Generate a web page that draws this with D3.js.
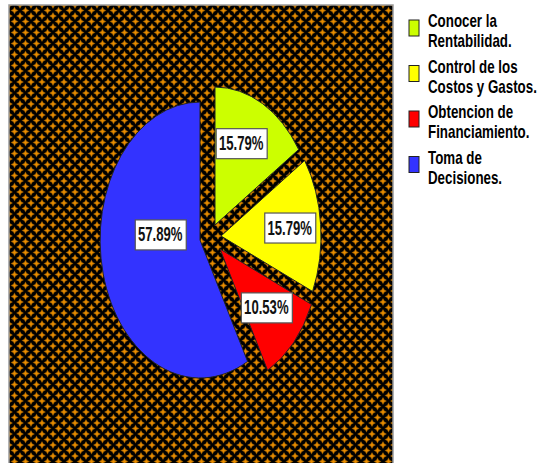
<!DOCTYPE html>
<html><head><meta charset="utf-8">
<script src="https://cdn.jsdelivr.net/npm/d3@7/dist/d3.min.js"></script>
<style>body{margin:0;background:#fff;overflow:hidden}</style>
</head><body>
<svg id="chart" width="546" height="463"></svg>
<script>
// ---- data ----
const categories = ["Conocer la Rentabilidad.", "Control de los Costos y Gastos.", "Obtencion de Financiamiento.", "Toma de Decisiones."];
const legendLines = [["Conocer la", "Rentabilidad."], ["Control de los", "Costos y Gastos."], ["Obtencion de", "Financiamiento."], ["Toma de", "Decisiones."]];
const values = [15.79, 15.79, 10.53, 57.89];
const valueLabels = ["15.79%", "15.79%", "10.53%", "57.89%"];

// ---- style ----
const colors = ["#ccff00", "#ffff00", "#ff0000", "#3333ff"];
const FONT = "'Liberation Sans','Arial',sans-serif";
const plot = {x: 9, y: 5, w: 384, h: 470};
const pieCenter = {x: 209, y: 238}, rx = 100, ry = 138;
const explode = [[6, -13], [12, -2], [11, 11], [-9, 2]];   // slice displacement (px)
const labelK = [[0.55, 0.67], [0.69, 0.7], [0.63, 0.63], [0.41, -0.15]];

const svg = d3.select("#chart");
const defs = svg.append("defs");
const T = 11;
const pat = defs.append("pattern").attr("id", "bg").attr("patternUnits", "userSpaceOnUse")
  .attr("x", plot.x).attr("y", plot.y).attr("width", T).attr("height", T);
pat.append("rect").attr("width", T).attr("height", T).attr("fill", "#000");
function star(cx, cy, R, r) {
  const pts = [];
  for (let i = 0; i < 8; i++) {
    const a = i * Math.PI / 4, rr = i % 2 ? r : R;
    pts.push([cx + rr * Math.sin(a), cy - rr * Math.cos(a)]);
  }
  return "M" + pts.map(p => p.join(",")).join("L") + "Z";
}
[[0, 0], [T, 0], [0, T], [T, T], [T / 2, T / 2]].forEach(([cx, cy]) => {
  pat.append("path").attr("d", star(cx, cy, 4.0, 2.0)).attr("fill", "#7a4800");
  pat.append("path").attr("d", star(cx, cy, 3.3, 1.4)).attr("fill", "#c67800");
  pat.append("path").attr("d", star(cx, cy, 2.2, 0.9)).attr("fill", "#e88c00");
});

svg.append("rect").attr("x", plot.x).attr("y", plot.y).attr("width", plot.w).attr("height", plot.h)
  .attr("fill", "url(#bg)").attr("stroke", "#9a9a9a").attr("stroke-width", 1.5);

const pie = d3.pie().sort(null).value(d => d)(values);
const arc = d3.arc().innerRadius(0).outerRadius(1);

const slices = svg.append("g").selectAll("g").data(pie).join("g")
  .attr("transform", (d, i) => `translate(${pieCenter.x + explode[i][0]},${pieCenter.y + explode[i][1]})`);
slices.append("path")
  .attr("transform", `scale(${rx},${ry})`)
  .attr("d", arc)
  .attr("fill", (d, i) => colors[i])
  .attr("stroke", "#222").attr("stroke-width", 1).attr("vector-effect", "non-scaling-stroke");

// value labels
slices.each(function (d, i) {
  const mid = (d.startAngle + d.endAngle) / 2;
  const lx = labelK[i][0] * rx * Math.sin(mid);
  const ly = -labelK[i][1] * ry * Math.cos(mid);
  const g = d3.select(this).append("g").attr("transform", `translate(${lx},${ly})`);
  g.append("rect").attr("x", -25).attr("y", -15).attr("width", 51).attr("height", 30)
    .attr("fill", "#fff").attr("stroke", "#555").attr("stroke-width", 1.2);
  g.append("text").attr("transform", "scale(0.82,1.3)").attr("y", 5)
    .attr("text-anchor", "middle").attr("font-family", FONT).attr("font-weight", "bold")
    .attr("font-size", 16).attr("fill", "#111").text(valueLabels[i]);
});

// legend
const lg = svg.append("g").selectAll("g").data(categories).join("g")
  .attr("transform", (d, i) => `translate(409,${20 + i * 45.5})`);
lg.append("rect").attr("width", 10).attr("height", 16)
  .attr("fill", (d, i) => colors[i]).attr("stroke", "#222").attr("stroke-width", 1);
lg.each(function (d, i) {
  legendLines[i].forEach((line, j) => {
    d3.select(this).append("text")
      .attr("transform", `translate(19,${7 + j * 20}) scale(0.86,1.2)`)
      .attr("font-family", FONT).attr("font-weight", "bold").attr("font-size", 15.5)
      .attr("fill", "#000").text(line);
  });
});
</script>
</body></html>
